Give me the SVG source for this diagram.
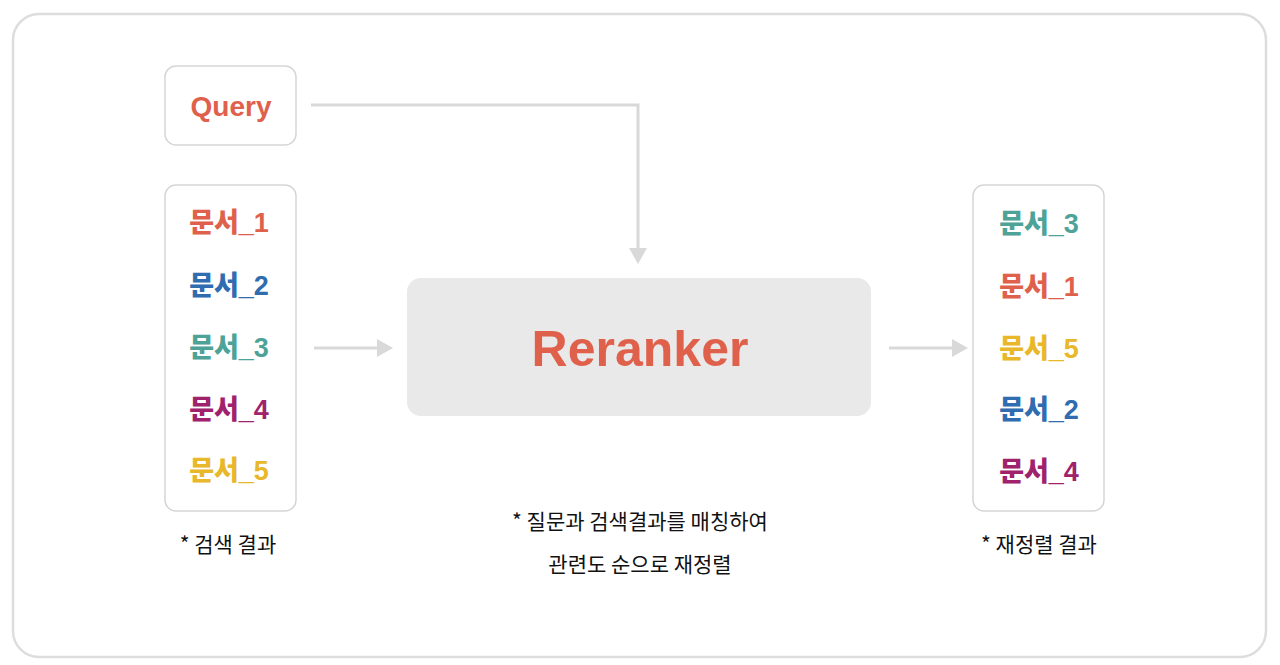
<svg xmlns="http://www.w3.org/2000/svg" width="1280" height="665" viewBox="0 0 1280 665">
<style>
.box{fill:#fff;stroke:#d6d6d6;stroke-width:1.5}
.doc{font-family:"Liberation Sans","Noto Sans CJK KR",sans-serif;font-weight:bold;font-size:27px;text-anchor:middle}
.k{font-family:"Noto Sans CJK KR",sans-serif;font-weight:900}
.cap{font-family:"Noto Sans CJK KR",sans-serif;font-size:21px;font-weight:400;fill:#111;text-anchor:middle}
.conn{fill:none;stroke:#d9d9d9;stroke-width:3}
.r{fill:#e0614b}.b{fill:#2f6cb0}.t{fill:#4ea398}.p{fill:#a0226d}.y{fill:#e8b82a}
</style>
<rect x="13" y="14" width="1253" height="643" rx="26" fill="#fff" stroke="#dddddd" stroke-width="2.5"/>
<g id="connectors">
<path class="conn" d="M311,105 H638 V250"/>
<path d="M629,248 L647,248 L638,264 Z" fill="#d9d9d9"/>
<path class="conn" d="M314,348 H380"/>
<path d="M377,339 L393,348 L377,357 Z" fill="#d9d9d9"/>
<path class="conn" d="M889,348 H955"/>
<path d="M952,339 L968,348 L952,357 Z" fill="#d9d9d9"/>
</g>
<g id="query">
<rect class="box" x="165" y="66" width="131" height="79" rx="11"/>
<text class="doc r" x="231" y="116" style="font-size:28px">Query</text>
</g>
<g id="search-results">
<rect class="box" x="165" y="185" width="131" height="326" rx="11"/>
<text class="doc r" x="229" y="232"><tspan class="k">문서</tspan>_1</text>
<text class="doc b" x="229" y="295"><tspan class="k">문서</tspan>_2</text>
<text class="doc t" x="229" y="357"><tspan class="k">문서</tspan>_3</text>
<text class="doc p" x="229" y="419"><tspan class="k">문서</tspan>_4</text>
<text class="doc y" x="229" y="480"><tspan class="k">문서</tspan>_5</text>
<text class="cap" x="228" y="552">* 검색 결과</text>
</g>
<g id="reranker">
<rect x="407" y="278" width="464" height="138" rx="14" fill="#e9e9e9"/>
<text class="doc r" x="640" y="366" style="font-size:50px">Reranker</text>
<text class="cap" x="640" y="529">* 질문과 검색결과를 매칭하여</text>
<text class="cap" x="640" y="572">관련도 순으로 재정렬</text>
</g>
<g id="reranked-results">
<rect class="box" x="973" y="185" width="131" height="326" rx="11"/>
<text class="doc t" x="1039" y="233"><tspan class="k">문서</tspan>_3</text>
<text class="doc r" x="1039" y="296"><tspan class="k">문서</tspan>_1</text>
<text class="doc y" x="1039" y="358"><tspan class="k">문서</tspan>_5</text>
<text class="doc b" x="1039" y="419"><tspan class="k">문서</tspan>_2</text>
<text class="doc p" x="1039" y="481"><tspan class="k">문서</tspan>_4</text>
<text class="cap" x="1039" y="552">* 재정렬 결과</text>
</g>
</svg>
